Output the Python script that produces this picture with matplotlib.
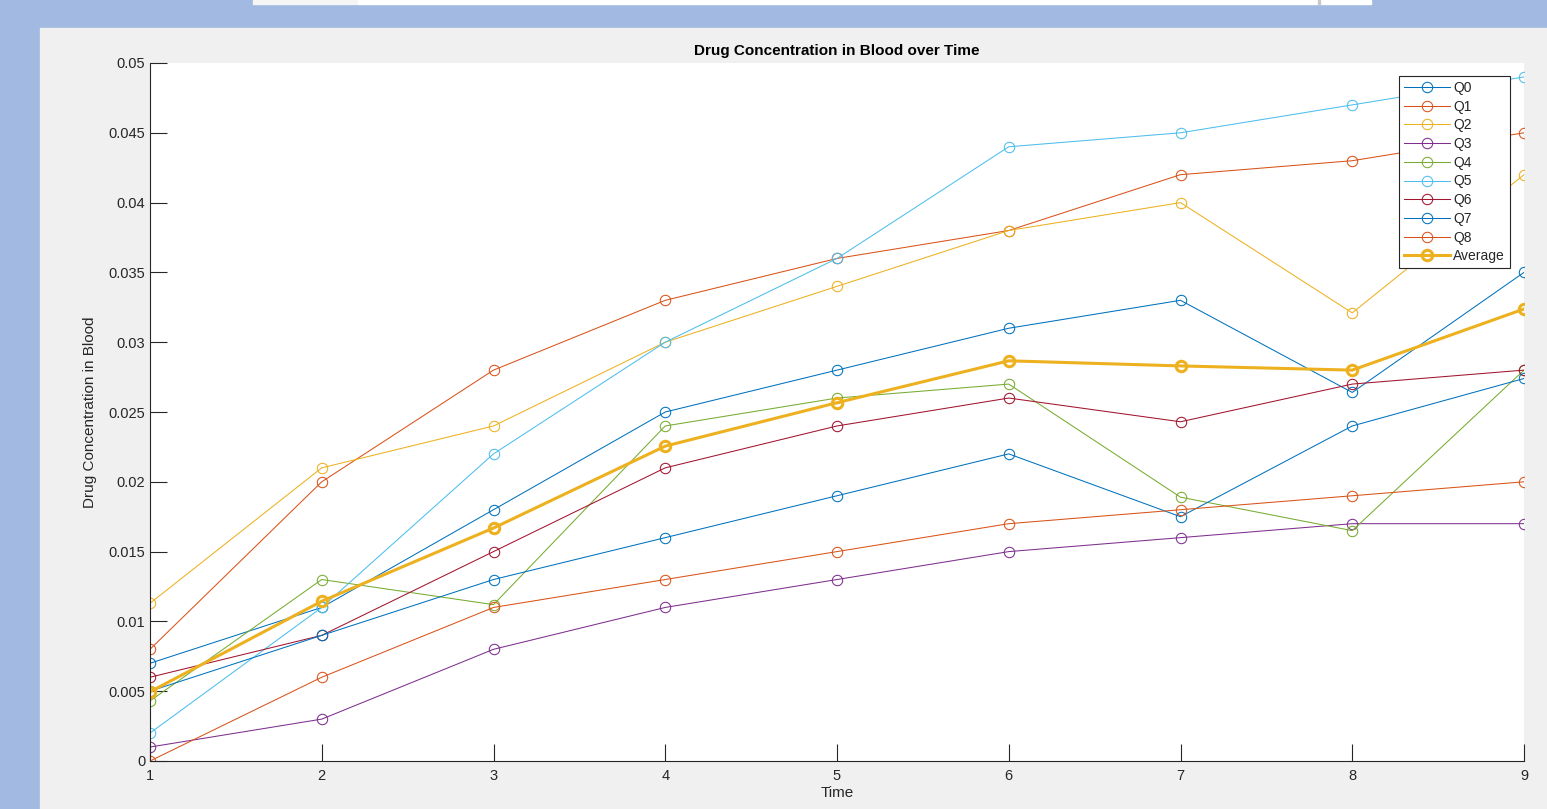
import matplotlib.pyplot as plt
import matplotlib.patches as patches
import numpy as np

plt.rcParams['font.family'] = ['Liberation Sans', 'DejaVu Sans']

time = [1, 2, 3, 4, 5, 6, 7, 8, 9]
q0 = [0.007, 0.011, 0.018, 0.025, 0.028, 0.031, 0.033, 0.0264, 0.035]
q1 = [0.008, 0.020, 0.028, 0.033, 0.036, 0.038, 0.042, 0.043, 0.045]
q2 = [0.0113, 0.021, 0.024, 0.030, 0.034, 0.038, 0.040, 0.0321, 0.042]
q3 = [0.001, 0.003, 0.008, 0.011, 0.013, 0.015, 0.016, 0.017, 0.017]
q4 = [0.0043, 0.013, 0.0112, 0.024, 0.026, 0.027, 0.0189, 0.0165, 0.028]
q5 = [0.002, 0.011, 0.022, 0.030, 0.036, 0.044, 0.045, 0.047, 0.049]
q6 = [0.006, 0.009, 0.015, 0.021, 0.024, 0.026, 0.0243, 0.027, 0.028]
q7 = [0.005, 0.009, 0.013, 0.016, 0.019, 0.022, 0.0175, 0.024, 0.0274]
q8 = [0.0, 0.006, 0.011, 0.013, 0.015, 0.017, 0.018, 0.019, 0.020]
labels = ['Q0', 'Q1', 'Q2', 'Q3', 'Q4', 'Q5', 'Q6', 'Q7', 'Q8']
series = [q0, q1, q2, q3, q4, q5, q6, q7, q8]
average = np.mean(np.array(series), axis=0)

# matlab default color order
colors = ['#0072BD', '#D95319', '#EDB120', '#7E2F8E', '#77AC30',
          '#4DBEEE', '#A2142F', '#0072BD', '#D95319']
txt = '#262626'

fig = plt.figure(figsize=(15.47, 8.09), dpi=100, facecolor='#A2B9E1')
# matlab figure window background + bit of the window above it
bg = [((40/1547, 0), 1 - 40/1547, 781/809, '#F0F0F0'),
      ((253/1547, 805/809), 105/1547, 4/809, '#F5F5F5'),
      ((358/1547, 805/809), 1013/1547, 4/809, 'white'),
      ((1318/1547, 805/809), 2/1547, 4/809, '#C8C8C8')]
for xy, w, h, c in bg:
    fig.patches.append(patches.Rectangle(xy, w, h, transform=fig.transFigure,
                                         color=c, zorder=-5))

ax = fig.add_axes([150/1547, 48/809, 1374/1547, 698/809])
for lab, vals, c in zip(labels, series, colors):
    ax.plot(time, vals, '-o', color=c, lw=0.75, markersize=7.5,
            markerfacecolor='none', markeredgewidth=0.75, label=lab)
ax.plot(time, average, '-o', color='#EDB120', lw=2.2, markersize=7.5,
        markerfacecolor='none', markeredgewidth=2.2, label='Average')

ax.set_xlim(1, 9)
ax.set_ylim(0, 0.05)
ax.set_xticks(time)
yt = np.arange(0, 0.0501, 0.005)
ax.set_yticks(yt)
ax.set_yticklabels(['%g' % round(v, 3) for v in yt])
ax.spines['top'].set_visible(False)
ax.spines['right'].set_visible(False)
for s in ['left', 'bottom']:
    ax.spines[s].set_color(txt)
    ax.spines[s].set_linewidth(0.8)
ax.tick_params(direction='in', length=12, width=0.8, colors=txt, labelsize=10.5)
ax.tick_params(axis='x', pad=6)

ax.set_title('Drug Concentration in Blood over Time', fontsize=11, fontweight='bold',
             color='black', pad=6)
ax.set_xlabel('Time', fontsize=11, color=txt, labelpad=2)
ax.set_ylabel('Drug Concentration in Blood', fontsize=11, color=txt, labelpad=8)

leg = ax.legend(loc='upper right', bbox_to_anchor=(0.9898, 0.9814), borderaxespad=0,
                fontsize=10, fancybox=False, framealpha=1, edgecolor=txt,
                borderpad=0.35, labelspacing=0.34, handlelength=3.3,
                handletextpad=0.25)
leg.get_frame().set_linewidth(0.8)
for t in leg.get_texts():
    t.set_color(txt)

plt.savefig('out.png', dpi=100, facecolor=fig.get_facecolor())
